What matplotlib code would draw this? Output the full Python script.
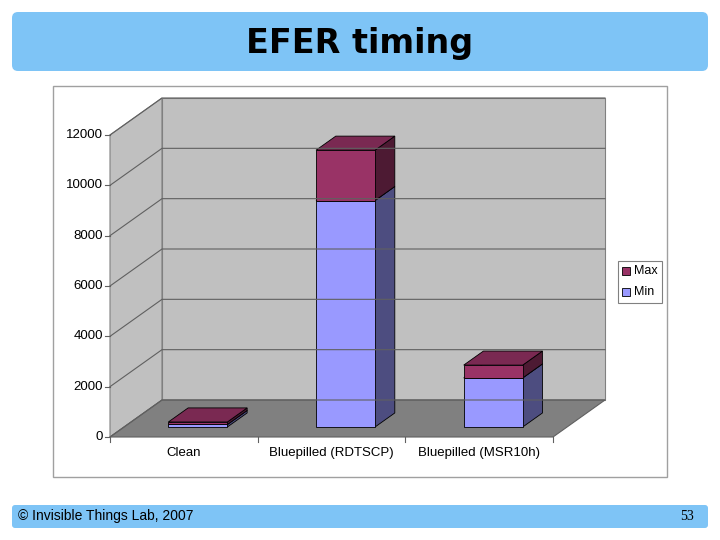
import matplotlib
matplotlib.use("Agg")
import matplotlib.pyplot as plt
from matplotlib.patches import Polygon, FancyBboxPatch, Rectangle

categories = ["Clean", "Bluepilled (RDTSCP)", "Bluepilled (MSR10h)"]
min_vals = [100, 9000, 1950]
max_vals = [200, 11000, 2460]
yticks = [0, 2000, 4000, 6000, 8000, 10000, 12000]

plt.rcParams['font.family'] = ['Liberation Sans', 'DejaVu Sans']
fig = plt.figure(figsize=(7.2, 5.4), dpi=100)
ax = fig.add_axes([0, 0, 1, 1])
ax.set_xlim(0, 720); ax.set_ylim(540, 0); ax.axis('off')

# slide
ax.add_patch(FancyBboxPatch((12, 12), 696, 59, boxstyle="round,pad=0,rounding_size=6", fc="#7EC4F6", ec="none"))
ax.text(360, 43, "EFER timing", ha='center', va='center', fontsize=24, fontweight='bold', family='DejaVu Sans')
ax.add_patch(FancyBboxPatch((12, 505), 696, 23, boxstyle="round,pad=0,rounding_size=3", fc="#7EC4F6", ec="none"))
ax.text(18, 516, "© Invisible Things Lab, 2007", ha='left', va='center', fontsize=10)
ax.text(694, 517, "53", ha='right', va='center', fontsize=10, family='Liberation Serif')
ax.add_patch(Rectangle((53, 86), 614, 391, fc='white', ec='#A0A0A0', lw=1))

# 3D geometry
X0, X1, Y0 = 110, 553, 437
DX, DY = 52, -37
SC = (437 - 135) / 12000.0
def P(x, v, f):
    return (x + DX * f, Y0 - v * SC + DY * f)

vmax = yticks[-1]
wall = '#C0C0C0'
ax.add_patch(Polygon([P(X0, 0, 0), P(X0, 0, 1), P(X0, vmax, 1), P(X0, vmax, 0)], fc=wall, ec='#808080', lw=0.8))
ax.add_patch(Polygon([P(X0, 0, 1), P(X1, 0, 1), P(X1, vmax, 1), P(X0, vmax, 1)], fc=wall, ec='#808080', lw=0.8))
ax.add_patch(Polygon([P(X0, 0, 0), P(X1, 0, 0), P(X1, 0, 1), P(X0, 0, 1)], fc='#808080', ec='#606060', lw=0.8))
for t in yticks:
    pts = [P(X0, t, 0), P(X0, t, 1), P(X1, t, 1)]
    ax.plot([p[0] for p in pts], [p[1] for p in pts], color='#606060', lw=0.8)
    ax.plot([X0 - 5, X0], [P(X0, t, 0)[1]] * 2, color='#606060', lw=0.8)
    ax.text(X0 - 7, P(X0, t, 0)[1], str(t), ha='right', va='center', fontsize=9.5)
cw = (X1 - X0) / len(categories)
for i in range(len(categories) + 1):
    x = X0 + cw * i
    ax.plot([x, x], [Y0, Y0 + 5], color='#606060', lw=0.8)
for i, c in enumerate(categories):
    ax.text(X0 + cw * (i + 0.5), 453, c, ha='center', va='center', fontsize=9.5)

f0, f1 = 0.27, 0.65
bw = 59
def box(xc, v0, v1, front, side, top):
    xl, xr = xc - bw / 2, xc + bw / 2
    ax.add_patch(Polygon([P(xr, v0, f0), P(xr, v0, f1), P(xr, v1, f1), P(xr, v1, f0)], fc=side, ec='black', lw=0.6))
    ax.add_patch(Polygon([P(xl, v0, f0), P(xr, v0, f0), P(xr, v1, f0), P(xl, v1, f0)], fc=front, ec='black', lw=0.6))
    ax.add_patch(Polygon([P(xl, v1, f0), P(xr, v1, f0), P(xr, v1, f1), P(xl, v1, f1)], fc=top, ec='black', lw=0.6))

for i in range(len(categories)):
    xc = X0 + cw * (i + 0.5)
    box(xc, 0, min_vals[i], '#9999FF', '#4D4D80', '#B3B3FF')
    box(xc, min_vals[i], max_vals[i], '#993366', '#4D1A33', '#7A2952')

# legend
ax.add_patch(Rectangle((618, 261), 44, 42, fc='white', ec='#808080', lw=0.8))
ax.add_patch(Rectangle((622, 267), 8, 8, fc='#993366', ec='black', lw=0.6))
ax.text(634, 271, "Max", va='center', fontsize=9)
ax.add_patch(Rectangle((622, 288), 8, 8, fc='#9999FF', ec='black', lw=0.6))
ax.text(634, 292, "Min", va='center', fontsize=9)

fig.savefig("out.png", dpi=100)
